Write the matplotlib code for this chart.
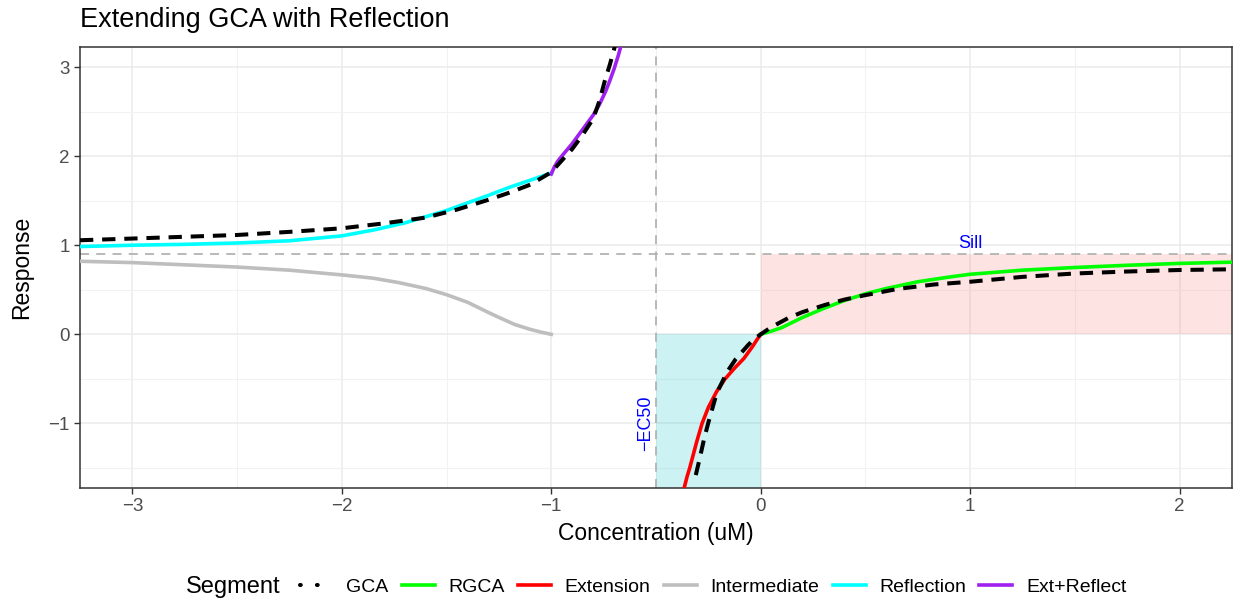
import matplotlib
matplotlib.use("Agg")
import matplotlib.pyplot as plt
from matplotlib.lines import Line2D
from matplotlib.ticker import MultipleLocator

plt.rcParams["font.family"] = ["Liberation Sans", "DejaVu Sans"]

# values
gca_left_x = [-3.25, -3.0, -2.75, -2.5, -2.25, -2.0, -1.8, -1.6, -1.45, -1.3, -1.2, -1.1, -1.0,
              -0.95, -0.9, -0.85, -0.8, -0.77, -0.745, -0.72, -0.7, -0.69]
gca_left_y = [1.056, 1.075, 1.095, 1.115, 1.15, 1.19, 1.245, 1.31, 1.4, 1.51, 1.59, 1.68, 1.82,
              1.95, 2.08, 2.24, 2.42, 2.62, 2.84, 3.03, 3.2, 3.3]
gca_right_x = [-0.31, -0.29, -0.27, -0.25, -0.21, -0.16, -0.12, -0.06, -0.03, 0.0, 0.05, 0.133,
               0.2, 0.307, 0.4, 0.5, 0.655, 0.83, 1.0, 1.25, 1.5, 1.75, 2.0, 2.25]
gca_right_y = [-1.58, -1.38, -1.17, -0.99, -0.66, -0.42, -0.28, -0.12, -0.05, 0.0, 0.08, 0.185,
               0.25, 0.33, 0.39, 0.44, 0.51, 0.56, 0.59, 0.645, 0.683, 0.705, 0.722, 0.73]
rgca_x = [0.0, 0.05, 0.1, 0.2, 0.3, 0.4, 0.5, 0.6, 0.75, 0.9, 1.0, 1.25, 1.5, 1.75, 2.0, 2.25]
rgca_y = [0.0, 0.035, 0.075, 0.19, 0.29, 0.38, 0.455, 0.515, 0.59, 0.643, 0.674, 0.72, 0.75,
          0.775, 0.796, 0.81]
ext_x = [-0.365, -0.352, -0.339, -0.322, -0.305, -0.28, -0.25, -0.21, -0.17, -0.125, -0.08,
         -0.04, -0.015, 0.0]
ext_y = [-1.72, -1.6, -1.5, -1.35, -1.2, -1.0, -0.82, -0.64, -0.5, -0.38, -0.27, -0.14, -0.05, 0.0]
inter_x = [-3.25, -3.0, -2.75, -2.5, -2.25, -2.0, -1.85, -1.727, -1.6, -1.5, -1.4, -1.3, -1.25,
           -1.174, -1.1, -1.05, -1.0]
inter_y = [0.82, 0.805, 0.78, 0.755, 0.72, 0.667, 0.63, 0.58, 0.515, 0.445, 0.36, 0.245, 0.19,
           0.11, 0.055, 0.025, 0.0]
refl_x = [-3.25, -3.0, -2.75, -2.5, -2.25, -2.0, -1.85, -1.7, -1.6, -1.5, -1.4, -1.3, -1.2,
          -1.1, -1.0]
refl_y = [0.985, 1.0, 1.01, 1.025, 1.05, 1.105, 1.17, 1.25, 1.32, 1.39, 1.475, 1.56, 1.65,
          1.73, 1.81]
extref_x = [-1.0, -0.985, -0.97, -0.95, -0.9, -0.85, -0.8, -0.77, -0.74, -0.72, -0.7, -0.68, -0.66]
extref_y = [1.8, 1.88, 1.94, 2.0, 2.14, 2.3, 2.46, 2.58, 2.73, 2.85, 2.98, 3.13, 3.3]

sill = 0.9
neg_ec50 = -0.5
segments = ["GCA", "RGCA", "Extension", "Intermediate", "Reflection", "Ext+Reflect"]
colors = ["black", "#00FF00", "#FF0000", "#BEBEBE", "#00FFFF", "#A020F0"]

fig = plt.figure(figsize=(12.45, 6.03), dpi=100)
ax = fig.add_axes([80 / 1245, 1 - 488 / 603, 1152 / 1245, 441 / 603])

ax.set_xlim(-3.25, 2.25)
ax.set_ylim(-1.725, 3.225)
ax.xaxis.set_major_locator(MultipleLocator(1))
ax.xaxis.set_minor_locator(MultipleLocator(0.5))
ax.yaxis.set_major_locator(MultipleLocator(1))
ax.yaxis.set_minor_locator(MultipleLocator(0.5))
ax.grid(which="major", color="#EBEBEB", lw=1.1, zorder=0)
ax.grid(which="minor", color="#F2F2F2", lw=0.8, zorder=0)
ax.set_axisbelow(True)

# shaded regions
ax.axvspan(neg_ec50, 0, ymin=0, ymax=(0 + 1.725) / 4.95, color="#00BFC4", alpha=0.2, lw=0, zorder=1)
ax.fill_between([0, 2.25], 0, sill, color="#F8766D", alpha=0.2, lw=0, zorder=1)

ax.axhline(sill, color="#B3B3B3", lw=1.3, ls=(0, (5, 4)), zorder=2)
ax.axvline(neg_ec50, color="#B3B3B3", lw=1.3, ls=(0, (5, 4)), zorder=2)

lw = 2.6
ax.plot(rgca_x, rgca_y, color=colors[1], lw=lw, zorder=3)
ax.plot(ext_x, ext_y, color=colors[2], lw=lw, zorder=3)
ax.plot(inter_x, inter_y, color=colors[3], lw=lw, zorder=3)
ax.plot(refl_x, refl_y, color=colors[4], lw=lw, zorder=3)
ax.plot(extref_x, extref_y, color=colors[5], lw=lw, zorder=3)
dash = (0, (3.3, 2.2))
ax.plot(gca_left_x, gca_left_y, color="black", lw=2.9, ls=dash, zorder=4)
ax.plot(gca_right_x, gca_right_y, color="black", lw=2.9, ls=dash, zorder=4)

ax.text(1.0, sill + 0.02, "Sill", color="blue", fontsize=13, ha="center", va="bottom", zorder=5)
ax.text(neg_ec50 - 0.01, -1.0, "\u2212EC50", color="blue", fontsize=13, rotation=90,
        ha="right", va="center", zorder=5)

for s in ax.spines.values():
    s.set_color("#333333")
    s.set_linewidth(1.1)
ax.tick_params(which="major", length=4.5, width=1.0, color="#333333", labelcolor="#4D4D4D",
               labelsize=13.5, pad=3)
ax.tick_params(which="minor", length=0)

ax.set_xlabel("Concentration (uM)", fontsize=16.5, labelpad=5)
ax.set_ylabel("Response", fontsize=16.5, labelpad=11)
fig.text(80 / 1245, 1 - 20 / 603, "Extending GCA with Reflection", fontsize=19.5, ha="left", va="center")

handles = [Line2D([], [], color="black", lw=2.9, ls=(0, (0.2, 4.0)), dash_capstyle="round")]
handles += [Line2D([], [], color=c, lw=lw) for c in colors[1:]]
fig.text(186 / 1245, 1 - 587 / 603, "Segment", fontsize=17, ha="left", va="center")
fig.legend(handles, segments, loc="center", bbox_to_anchor=(713 / 1245, 1 - 587 / 603), ncol=6,
           frameon=False, fontsize=14, handlelength=1.7, handletextpad=0.7, columnspacing=0.68,
           borderpad=0)

fig.savefig("out.png", dpi=100)
